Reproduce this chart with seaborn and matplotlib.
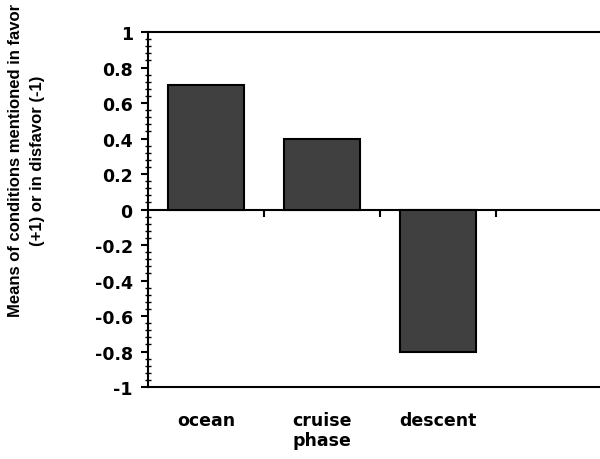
import numpy as np
import pandas as pd
import matplotlib
matplotlib.use("Agg")
import matplotlib.pyplot as plt
import seaborn as sns
from matplotlib.ticker import MultipleLocator

categories = ["ocean", "cruise\nphase", "descent", ""]
means = [0.7, 0.4, -0.8, np.nan]

df = pd.DataFrame({"condition": categories, "mean": means})

sns.set_style("white")
plt.rcParams["font.family"] = ["Liberation Sans", "DejaVu Sans"]
plt.rcParams["font.weight"] = "bold"
plt.rcParams["text.color"] = "black"
plt.rcParams["axes.labelcolor"] = "black"
plt.rcParams["xtick.color"] = "black"
plt.rcParams["ytick.color"] = "black"

fig = plt.figure(figsize=(6, 4.6), dpi=100)
ax = fig.add_axes([0.2467, 0.1565, 0.7733, 0.7717])

sns.barplot(data=df, x="condition", y="mean", order=categories, color="#404040",
            saturation=1, width=0.66, edgecolor="black", linewidth=1.5, ax=ax)

ax.set_xlim(-0.5, 3.5)
ax.set_ylim(-1, 1)
ax.yaxis.set_major_locator(MultipleLocator(0.2))
ax.yaxis.set_minor_locator(MultipleLocator(0.04))
ax.set_yticklabels([f"{v:g}" if abs(v) > 1e-9 else "0" for v in ax.get_yticks()])
ax.tick_params(axis="y", which="major", direction="out", length=5, width=1.5,
               labelsize=12.5, pad=6, left=True)
ax.tick_params(axis="y", which="minor", direction="inout", length=4, width=1, left=True)
ax.tick_params(axis="x", length=0, labelsize=12.5, pad=17)
for lab in ax.get_xticklabels() + ax.get_yticklabels():
    lab.set_fontweight("bold")
    lab.set_family("DejaVu Sans")
    lab.set_color("black")

for side in ["left", "bottom", "top", "right"]:
    ax.spines[side].set_linewidth(1.5)
    ax.spines[side].set_color("black")

# axis line at zero with category dividers
zero = ax.secondary_xaxis(0.5)
zero.set_xticks([0.5, 1.5, 2.5])
zero.set_xticklabels([])
zero.tick_params(direction="in", length=5, width=1.5, color="black")
for sp in zero.spines.values():
    sp.set_linewidth(1.5)
    sp.set_color("black")

ax.set_xlabel("")
ax.set_ylabel("Means of conditions mentioned in favor\n(+1) or in disfavor (-1)",
              fontsize=12, fontweight="bold", linespacing=1.55, color="black")
ax.yaxis.set_label_coords(-0.222, 0.64)

fig.savefig("out.png", dpi=100)
